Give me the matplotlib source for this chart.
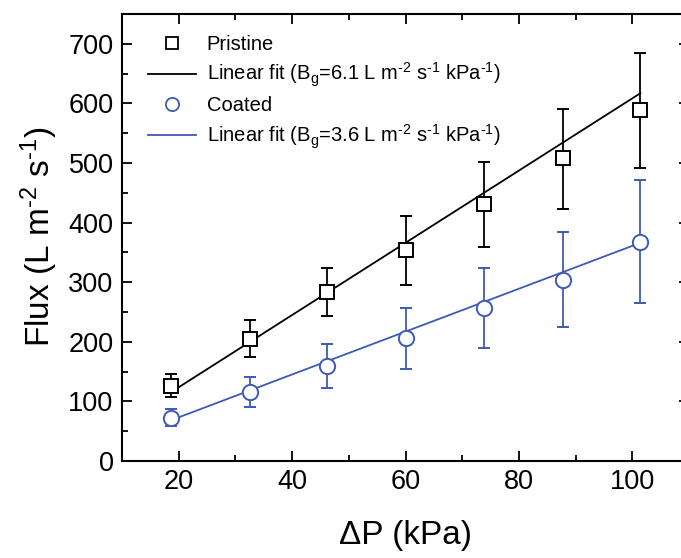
import matplotlib
matplotlib.use("Agg")
import matplotlib.pyplot as plt
from matplotlib.lines import Line2D
from matplotlib.ticker import MultipleLocator

# pressure steps (kPa)
dp = [18.6, 32.5, 46.2, 60.0, 73.9, 87.7, 101.4]

pristine = [126, 205, 283, 354, 431, 508, 588]
pristine_lo = [108, 174, 243, 296, 359, 422, 491]
pristine_hi = [145, 237, 323, 411, 501, 591, 684]

coated = [72, 116, 160, 207, 257, 304, 367]
coated_lo = [59, 91, 122, 154, 189, 224, 265]
coated_hi = [87, 141, 196, 257, 324, 384, 471]

# linear fit end points
fit_x = [18.6, 101.4]
pristine_fit = [115, 617]
coated_fit = [68, 366]

BLUE = "#3d5ab8"

plt.rcParams["font.family"] = ["Liberation Sans", "DejaVu Sans"]
plt.rcParams["mathtext.fontset"] = "custom"
plt.rcParams["mathtext.rm"] = "Liberation Sans"
plt.rcParams["mathtext.it"] = "Liberation Sans:italic"
plt.rcParams["mathtext.default"] = "regular"

fig = plt.figure(figsize=(6.81, 5.58), dpi=100)
ax = fig.add_axes([0.179, 0.174, 0.833, 0.801])

pe = [[p - l for p, l in zip(pristine, pristine_lo)],
      [h - p for p, h in zip(pristine, pristine_hi)]]
ce = [[c - l for c, l in zip(coated, coated_lo)],
      [h - c for c, h in zip(coated, coated_hi)]]

ax.plot(fit_x, pristine_fit, color="black", lw=1.3, zorder=2)
ax.plot(fit_x, coated_fit, color=BLUE, lw=1.3, zorder=2)
ax.errorbar(dp, pristine, yerr=pe, fmt="s", ms=9.5, mfc="white", mec="black",
            mew=1.4, ecolor="black", elinewidth=1.3, capsize=4.5, capthick=1.3, zorder=3)
ax.errorbar(dp, coated, yerr=ce, fmt="o", ms=11, mfc="white", mec=BLUE,
            mew=1.4, ecolor=BLUE, elinewidth=1.3, capsize=4.5, capthick=1.3, zorder=3)

ax.set_xlim(10, 110)
ax.set_ylim(0, 750)
ax.xaxis.set_major_locator(MultipleLocator(20))
ax.xaxis.set_minor_locator(MultipleLocator(10))
ax.yaxis.set_major_locator(MultipleLocator(100))
ax.yaxis.set_minor_locator(MultipleLocator(50))
ax.tick_params(which="both", direction="in", top=True, right=True, width=1.3)
ax.tick_params(which="major", length=7, labelsize=19.5, pad=6)
ax.tick_params(which="minor", length=4)
for s in ax.spines.values():
    s.set_linewidth(1.5)

ax.set_xlabel("ΔP (kPa)", fontsize=24, labelpad=18)
ax.set_ylabel(r"Flux (L m$^{\text{-}2}$ s$^{\text{-}1}$)", fontsize=24, labelpad=6)

handles = [
    Line2D([], [], ls="none", marker="s", ms=9, mfc="white", mec="black", mew=1.3),
    Line2D([], [], color="black", lw=1.3),
    Line2D([], [], ls="none", marker="o", ms=9.5, mfc="white", mec=BLUE, mew=1.3),
    Line2D([], [], color=BLUE, lw=1.3),
]
labels = [
    "Pristine",
    r"Linear fit (B$_g$=6.1 L m$^{\text{-}2}$ s$^{\text{-}1}$ kPa$^{\text{-}1}$)",
    "Coated",
    r"Linear fit (B$_g$=3.6 L m$^{\text{-}2}$ s$^{\text{-}1}$ kPa$^{\text{-}1}$)",
]
ax.legend(handles, labels, loc="upper left", bbox_to_anchor=(0.025, 0.98),
          frameon=False, fontsize=14.5, handlelength=2.4, handletextpad=0.5,
          labelspacing=0.35, borderaxespad=0.2)

fig.savefig("out.png", dpi=100)
